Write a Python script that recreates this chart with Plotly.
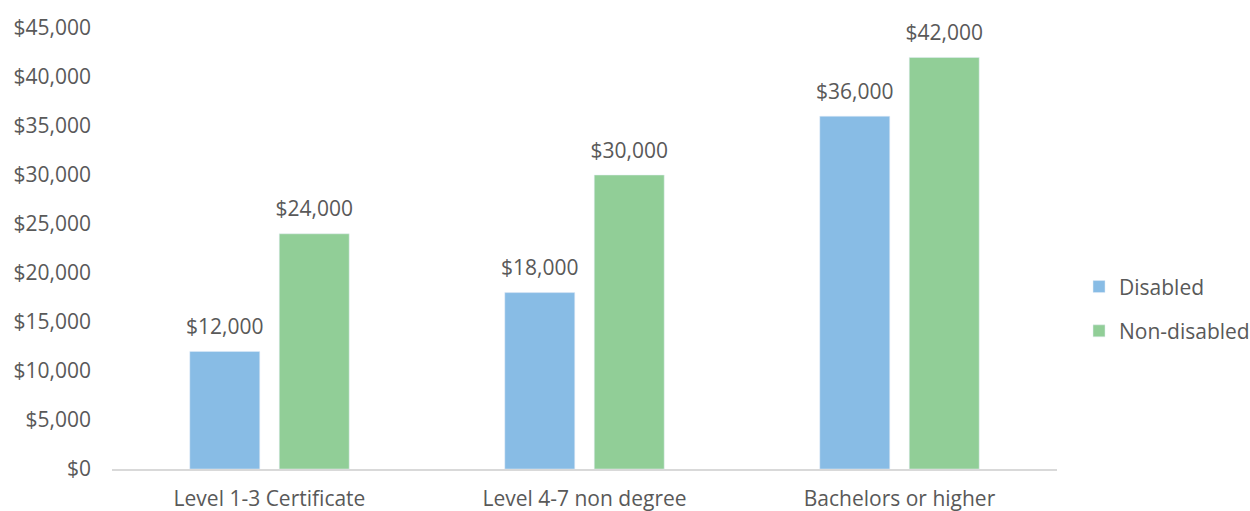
import plotly.graph_objects as go

categories = ["Level 1-3 Certificate", "Level 4-7 non degree", "Bachelors or higher"]
disabled = [12000, 18000, 36000]
non_disabled = [24000, 30000, 42000]
tick_vals = [0, 5000, 10000, 15000, 20000, 25000, 30000, 35000, 40000, 45000]
tick_text = ["$" + f"{v:,}" for v in tick_vals]

FONT = "Open Sans"
TXT = "#595959"
BLUE = "#88BCE5"
GREEN = "#91CE97"

fig = go.Figure()
for name, vals, col, grp in [("Disabled", disabled, BLUE, "a"), ("Non-disabled", non_disabled, GREEN, "b")]:
    fig.add_trace(go.Bar(name=name, x=categories, y=vals, marker_color=col,
                         offsetgroup=grp, legendgroup=grp))
for name, vals, grp in [("Disabled", disabled, "a"), ("Non-disabled", non_disabled, "b")]:
    fig.add_trace(go.Scatter(x=categories, y=vals, mode="markers+text", offsetgroup=grp,
                             text=["$" + f"{v:,}" for v in vals], textposition="top center",
                             marker=dict(size=18, color="rgba(0,0,0,0)"), cliponaxis=False,
                             textfont=dict(size=21, color=TXT, family=FONT),
                             showlegend=False, hoverinfo="skip"))

fig.update_layout(
    width=1250, height=511,
    margin=dict(l=112, r=193, t=28, b=42, autoexpand=False),
    paper_bgcolor="white", plot_bgcolor="white",
    barmode="group", bargap=0.432, bargroupgap=0.218,
    scattermode="group", scattergap=0.432,
    font=dict(family=FONT, size=21, color=TXT),
    showlegend=True,
    legend=dict(x=1.0233, y=0.363, xanchor="left", yanchor="middle", traceorder="grouped",
                font=dict(size=21, color=TXT, family=FONT), tracegroupgap=14, itemwidth=30),
)
fig.update_xaxes(showline=True, linecolor="#D9D9D9", linewidth=2, showgrid=False, automargin=False,
                 ticks="", tickfont=dict(size=21, color=TXT, family=FONT), ticklabelstandoff=10)
fig.update_yaxes(range=[0, 45000], tickvals=tick_vals, ticktext=tick_text, showgrid=False,
                 zeroline=False, showline=False, ticks="", ticklabelstandoff=20, automargin=False,
                 tickfont=dict(size=21, color=TXT, family=FONT))

fig.write_html("out.html")
